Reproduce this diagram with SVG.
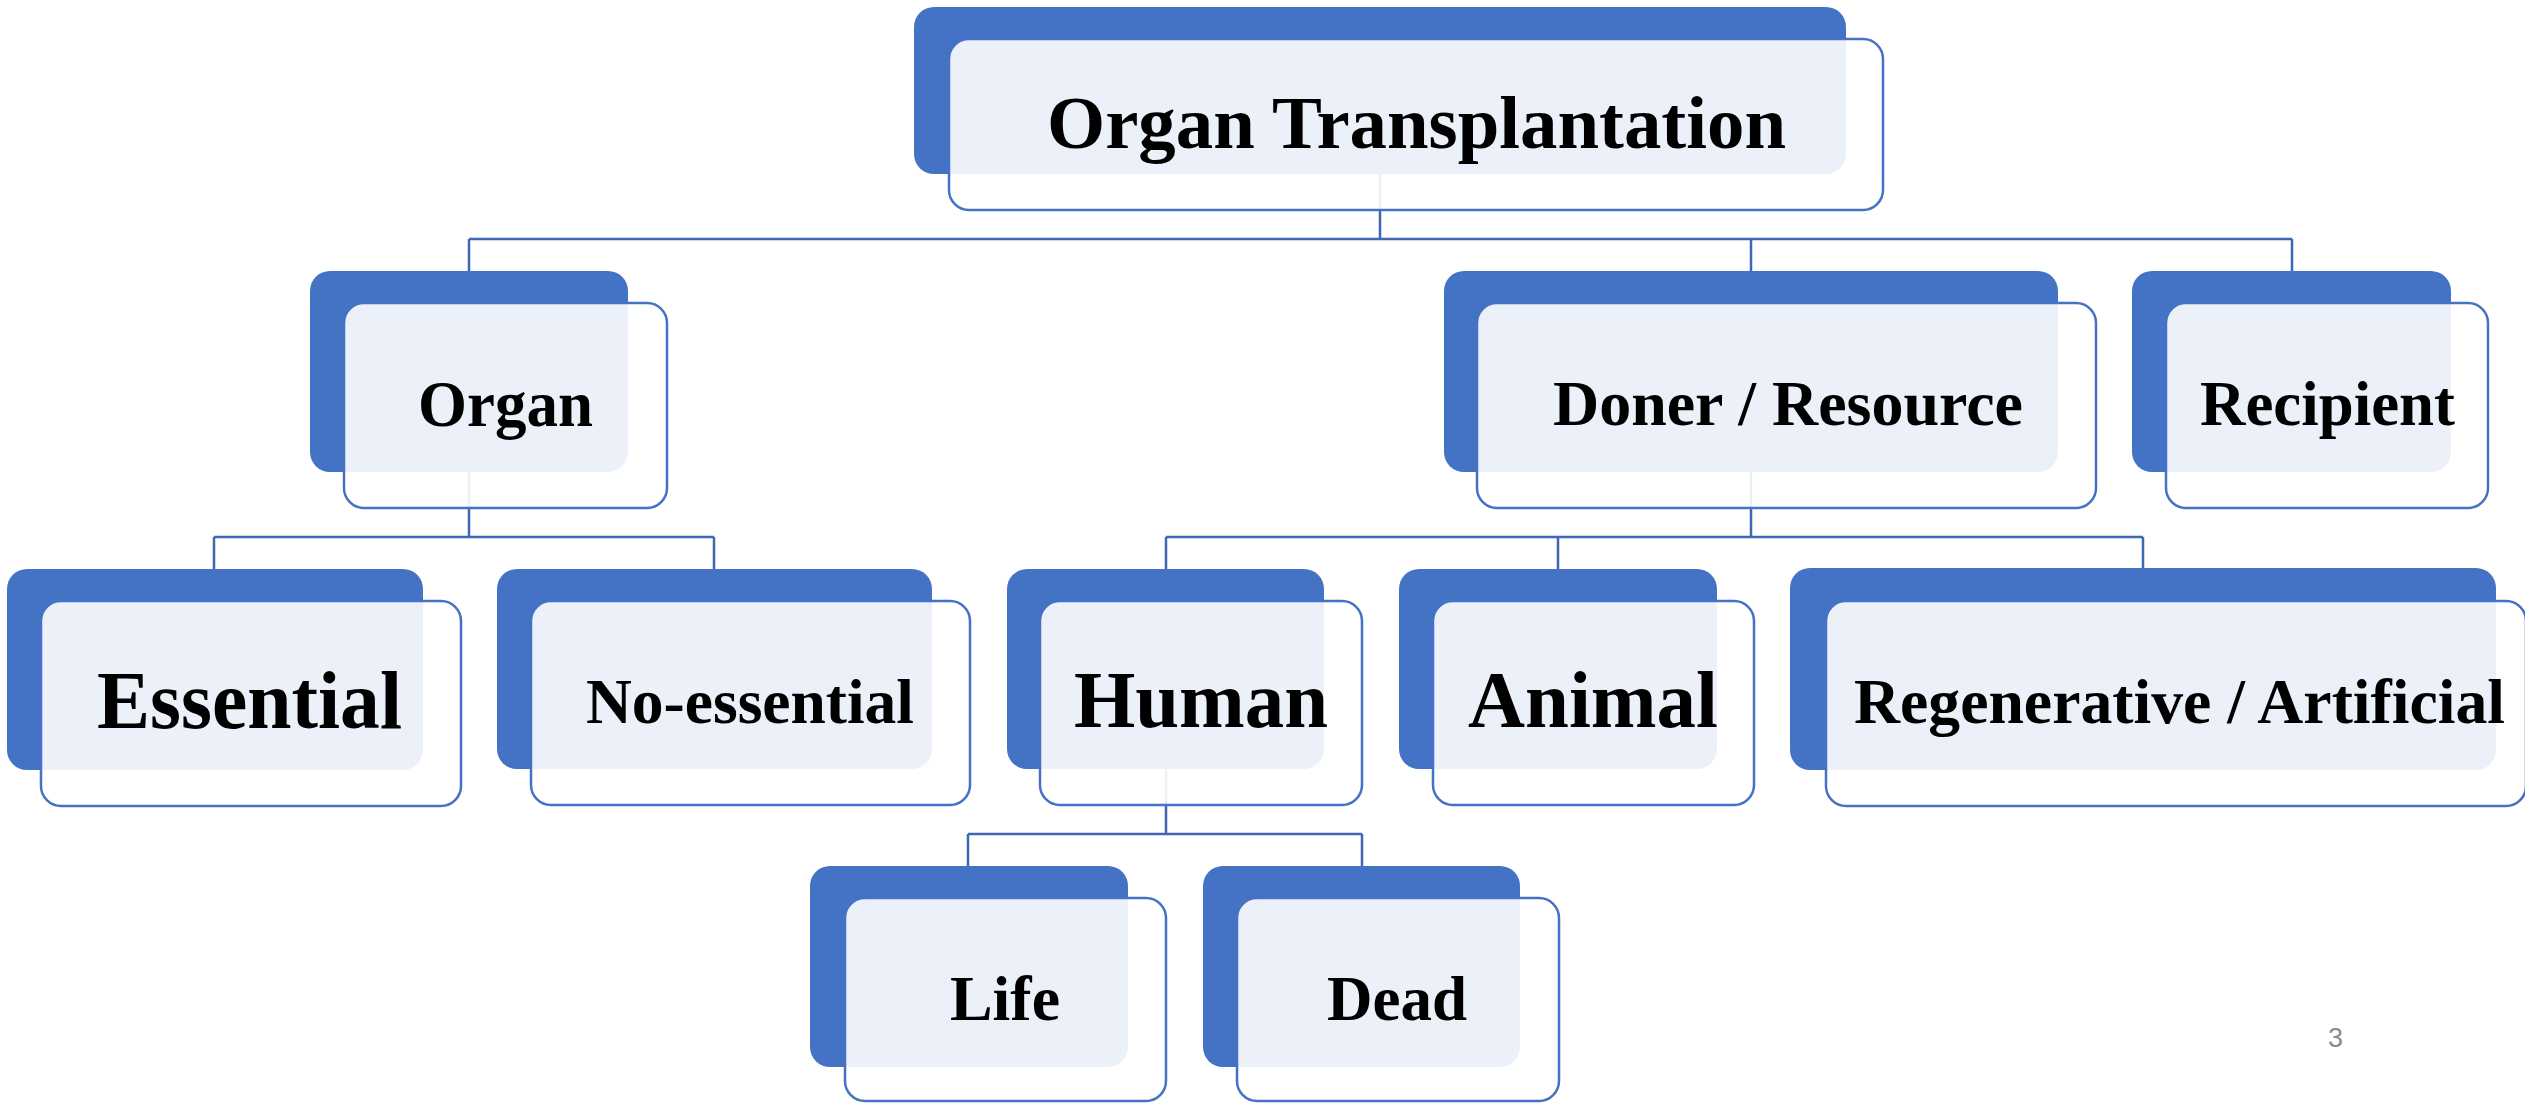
<svg xmlns="http://www.w3.org/2000/svg" width="2525" height="1103" viewBox="0 0 2525 1103">
  <style>
    .back { fill: #4472C4; }
    .front { fill: #FFFFFF; fill-opacity: 0.9; stroke: #4472C4; stroke-width: 2.5; }
    .lbl { font-family: "Liberation Serif", "Times New Roman", serif; font-weight: bold; fill: #000000; }
    .conn { fill: none; stroke: #3F67B5; stroke-width: 2.5; }
    .pg { font-family: "Liberation Sans", Arial, sans-serif; font-size: 27px; fill: #8A8A8A; }
  </style>
  <rect width="2525" height="1103" fill="#FFFFFF"/>
  <g id="connectors">
    <path class="conn" d="M1380 174 V239 M469 239 H2292 M469 239 V271 M1751 239 V271 M2292 239 V271"/>
    <path class="conn" d="M469 472 V537 M214 537 H714 M214 537 V569 M714 537 V569"/>
    <path class="conn" d="M1751 472 V537 M1166 537 H2143 M1166 537 V569 M1558 537 V569 M2143 537 V568"/>
    <path class="conn" d="M1166 769 V834 M968 834 H1362 M968 834 V866 M1362 834 V866"/>
  </g>
  <g id="node-organ-transplantation">
    <rect class="back" x="914" y="7" width="932" height="167" rx="20"/>
    <rect class="front" x="949" y="39" width="934" height="171" rx="20"/>
    <text class="lbl" x="1047" y="148" font-size="75" textLength="739" lengthAdjust="spacingAndGlyphs">Organ Transplantation</text>
  </g>
  <g id="node-organ">
    <rect class="back" x="310" y="271" width="318" height="201" rx="20"/>
    <rect class="front" x="344" y="303" width="323" height="205" rx="20"/>
    <text class="lbl" x="418" y="426" font-size="66" textLength="175" lengthAdjust="spacingAndGlyphs">Organ</text>
  </g>
  <g id="node-doner">
    <rect class="back" x="1444" y="271" width="614" height="201" rx="20"/>
    <rect class="front" x="1477" y="303" width="619" height="205" rx="20"/>
    <text class="lbl" x="1553" y="425" font-size="64" textLength="470" lengthAdjust="spacingAndGlyphs">Doner / Resource</text>
  </g>
  <g id="node-recipient">
    <rect class="back" x="2132" y="271" width="319" height="201" rx="20"/>
    <rect class="front" x="2166" y="303" width="322" height="205" rx="20"/>
    <text class="lbl" x="2200" y="425" font-size="64" textLength="255" lengthAdjust="spacingAndGlyphs">Recipient</text>
  </g>
  <g id="node-essential">
    <rect class="back" x="7" y="569" width="416" height="201" rx="20"/>
    <rect class="front" x="41" y="601" width="420" height="205" rx="20"/>
    <text class="lbl" x="97" y="728" font-size="82" textLength="305" lengthAdjust="spacingAndGlyphs">Essential</text>
  </g>
  <g id="node-no-essential">
    <rect class="back" x="497" y="569" width="435" height="200" rx="20"/>
    <rect class="front" x="531" y="601" width="439" height="204" rx="20"/>
    <text class="lbl" x="586" y="723" font-size="64" textLength="328" lengthAdjust="spacingAndGlyphs">No-essential</text>
  </g>
  <g id="node-human">
    <rect class="back" x="1007" y="569" width="317" height="200" rx="20"/>
    <rect class="front" x="1040" y="601" width="322" height="204" rx="20"/>
    <text class="lbl" x="1074" y="727" font-size="80" textLength="254" lengthAdjust="spacingAndGlyphs">Human</text>
  </g>
  <g id="node-animal">
    <rect class="back" x="1399" y="569" width="318" height="200" rx="20"/>
    <rect class="front" x="1433" y="601" width="321" height="204" rx="20"/>
    <text class="lbl" x="1468" y="727" font-size="80" textLength="250" lengthAdjust="spacingAndGlyphs">Animal</text>
  </g>
  <g id="node-regenerative">
    <rect class="back" x="1790" y="568" width="706" height="202" rx="20"/>
    <rect class="front" x="1826" y="601" width="700" height="205" rx="20"/>
    <text class="lbl" x="1854" y="723" font-size="64" textLength="651" lengthAdjust="spacingAndGlyphs">Regenerative / Artificial</text>
  </g>
  <g id="node-life">
    <rect class="back" x="810" y="866" width="318" height="201" rx="20"/>
    <rect class="front" x="845" y="898" width="321" height="203" rx="20"/>
    <text class="lbl" x="950" y="1020" font-size="64" textLength="110" lengthAdjust="spacingAndGlyphs">Life</text>
  </g>
  <g id="node-dead">
    <rect class="back" x="1203" y="866" width="317" height="201" rx="20"/>
    <rect class="front" x="1237" y="898" width="322" height="203" rx="20"/>
    <text class="lbl" x="1327" y="1020" font-size="64" textLength="140" lengthAdjust="spacingAndGlyphs">Dead</text>
  </g>
  <text class="pg" x="2328" y="1047">3</text>
</svg>
